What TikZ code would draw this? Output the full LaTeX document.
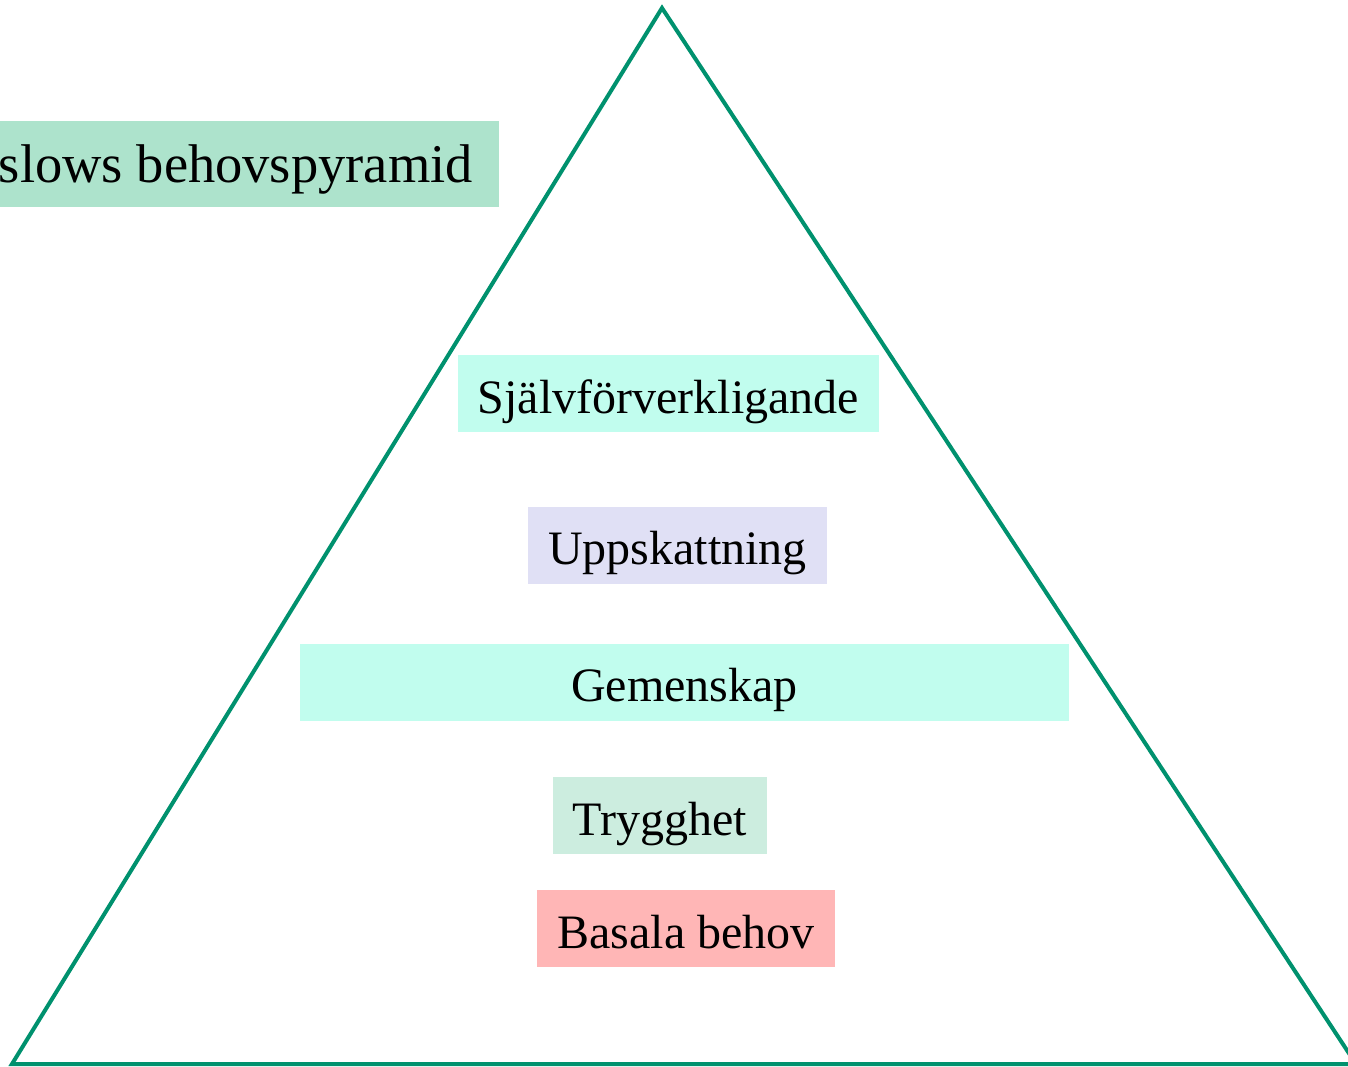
\documentclass[tikz,border=0pt]{standalone}
\usepackage{fontspec}
\setmainfont{Liberation Serif}
\definecolor{tri}{RGB}{0,145,110}
\definecolor{aqua}{RGB}{193,253,238}
\definecolor{lav}{RGB}{224,224,245}
\definecolor{mint}{RGB}{204,237,223}
\definecolor{pink}{RGB}{255,182,182}
\definecolor{titlec}{RGB}{173,227,204}
\begin{document}
\begin{tikzpicture}[x=1pt,y=-1pt,
  level/.style={inner xsep=20pt, inner ysep=0pt, minimum height=77pt,
    font=\fontsize{48}{56}\selectfont, text height=44pt, text depth=5pt},
  titlebox/.style={inner xsep=26pt, inner ysep=0pt, minimum height=86pt,
    font=\fontsize{54.5}{62}\selectfont, text height=46pt, text depth=8pt}]
\useasboundingbox (0,0) rectangle (1348,1067);
\coordinate (apex) at (662,8);
\coordinate (bl) at (12,1064);
\coordinate (br) at (1356,1064);
\draw[tri, line width=4pt, line join=miter] (apex) -- (bl) -- (br) -- cycle;
\node[titlebox, fill=titlec, anchor=east] (title) at (499,164) {Maslows behovspyramid};
\node[level, fill=aqua] (sjalv) at (668.5,393.5) {Självförverkligande};
\node[level, fill=lav] (upp) at (677.5,545) {Uppskattning};
\node[level, fill=aqua, minimum width=769pt] (gem) at (684.5,682) {Gemenskap};
\node[level, fill=mint] (tryg) at (660,815.5) {Trygghet};
\node[level, fill=pink] (bas) at (686,928.5) {Basala behov};
\end{tikzpicture}
\end{document}
